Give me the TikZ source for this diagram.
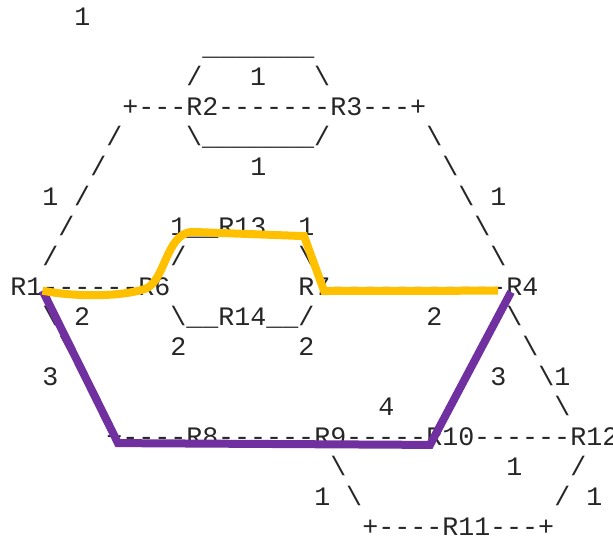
\documentclass[tikz,border=0pt]{standalone}
\usepackage{fontspec}
\usepackage{xcolor}
\usepackage{tikz}
\newfontfamily\asciifont{Liberation Mono}[Ligatures=TeXOff]
\definecolor{pathgold}{HTML}{FFC000}
\definecolor{pathpurple}{HTML}{7030A0}
\newlength{\colw}
\setlength{\colw}{12pt}
\newcommand{\gap}[1]{\hspace*{#1\colw}}
\newcommand{\bs}{\textbackslash}
\tikzset{
  wire/.style={anchor=base west, inner sep=0pt, text=black!85,
    font=\asciifont\fontsize{20}{24}\selectfont,
    text height=11.25pt, text depth=0pt},
  router/.style={wire},
  purplepath/.style={pathpurple, line width=6pt},
  goldpath/.style={pathgold, line width=6pt}
}

\begin{document}
\begin{tikzpicture}[x=12pt, y=-22.5pt]
  \useasboundingbox (-0.625,-0.85) rectangle (37.6875,17.15);

  % links and costs, one row of the drawing per node
  \node[wire] (w0) at (4,0) {1};
  \node[wire] (w1) at (12,1) {\_\_\_\_\_\_\_};
  \node[wire] (w2) at (11,2) {/\gap{3}1\gap{3}\bs};
  \node[wire] (w3) at (7,3) {+---\gap{2}-------\gap{2}---+};
  \node[wire] (w4) at (6,4) {/\gap{4}\bs\_\_\_\_\_\_\_/\gap{6}\bs};
  \node[wire] (w5) at (5,5) {/\gap{9}1\gap{11}\bs};
  \node[wire] (w6) at (2,6) {1\gap{1}/\gap{23}\bs\gap{1}1};
  \node[wire] (w7) at (3,7) {/\gap{6}1\_\_\gap{3}\_\_1\gap{10}\bs};
  \node[wire] (w8) at (2,8) {/\gap{7}/\gap{7}\bs\gap{11}\bs};
  \node[wire] (w9) at (2,9) {------\gap{12}-----------};
  \node[wire] (w10) at (2,10) {\bs\gap{1}2\gap{5}\bs\_\_\gap{3}\_\_/\gap{7}2\gap{3}/\bs};
  \node[wire] (w11) at (3,11) {\bs\gap{6}2\gap{7}2\gap{10}/\gap{2}\bs};
  \node[wire] (w12) at (2,12) {3\gap{1}\bs\gap{23}/\gap{1}3\gap{2}\bs{}1};
  \node[wire] (w13) at (5,13) {\bs\gap{17}4\gap{3}/\gap{6}\bs};
  \node[wire] (w14) at (6,14) {+----\gap{2}------\gap{2}-----\gap{3}------};
  \node[wire] (w15) at (20,15) {\bs\gap{10}1\gap{3}/};
  \node[wire] (w16) at (19,16) {1\gap{1}\bs\gap{12}/\gap{1}1};
  \node[wire] (w17) at (22,17) {+----\gap{3}---+};

  % routers
  \node[router] (r2) at (11,3) {R2};
  \node[router] (r3) at (20,3) {R3};
  \node[router] (r13) at (13,7) {R13};
  \node[router] (r1) at (0,9) {R1};
  \node[router] (r6) at (8,9) {R6};
  \node[router] (r7) at (18,9) {R7};
  \node[router] (r4) at (31,9) {R4};
  \node[router] (r14) at (13,10) {R14};
  \node[router] (r8) at (11,14) {R8};
  \node[router] (r9) at (19,14) {R9};
  \node[router] (r10) at (26,14) {R10};
  \node[router] (r12) at (35,14) {R12};
  \node[router] (r11) at (27,17) {R11};

  % the two paths from R1 to R4
  \draw[purplepath] ([yshift=-2pt]r1.east) -- (6.75,13.92) -- (26.25,13.98)
    -- ([xshift=3.75pt,yshift=-3pt]r4.west);
  \draw[goldpath] ([yshift=-2pt]r1.east) .. controls (4.06,9.05) and (6.88,9.05) .. (8.44,8.78)
    .. controls (9.69,8.55) and (9.75,6.92) .. (11.38,6.88) -- (18.38,7.02)
    -- (19.63,8.85) -- ([xshift=-6pt,yshift=-2pt]r4.west);
\end{tikzpicture}
\end{document}
